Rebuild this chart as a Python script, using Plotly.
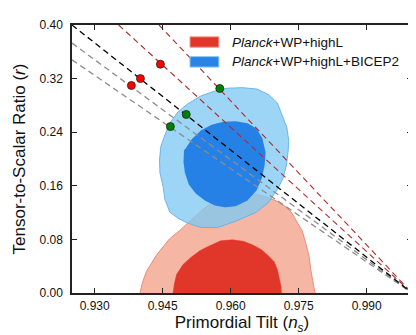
import plotly.graph_objects as go

# Planck+WP+highL contours (n_s, r)
planck_95_ns = [0.9400, 0.9405, 0.9414, 0.9424, 0.9436, 0.9451, 0.9465, 0.9487, 0.9505, 0.9534,
                0.9556, 0.9578, 0.9598, 0.9630, 0.9659, 0.9685, 0.9703, 0.9720, 0.9734, 0.9745,
                0.9758, 0.9766, 0.9773, 0.9777, 0.9782, 0.9786]
planck_95_r = [0.0, 0.0146, 0.0322, 0.0440, 0.0562, 0.0690, 0.0807, 0.0929, 0.1043, 0.1219,
               0.1337, 0.1410, 0.1454, 0.1491, 0.1469, 0.1418, 0.1366, 0.1293, 0.1204, 0.1072,
               0.0925, 0.0734, 0.0543, 0.0337, 0.0160, 0.0]
planck_68_ns = [0.9473, 0.9476, 0.9481, 0.9495, 0.9512, 0.9532, 0.9549, 0.9578, 0.9604, 0.9628,
                0.9648, 0.9668, 0.9683, 0.9696, 0.9703, 0.9707, 0.9711, 0.9712]
planck_68_r = [0.0, 0.0146, 0.0278, 0.0425, 0.0528, 0.0631, 0.0690, 0.0778, 0.0793, 0.0771,
               0.0719, 0.0646, 0.0557, 0.0465, 0.0351, 0.0219, 0.0101, 0.0]

# Planck+WP+highL+BICEP2 contours
bicep_95_ns = [0.9446, 0.9443, 0.9444, 0.9451, 0.9455, 0.9466, 0.9484, 0.9505, 0.9534, 0.9571,
               0.9611, 0.9655, 0.9683, 0.9703, 0.9716, 0.9723, 0.9727, 0.9728, 0.9724, 0.9714,
               0.9703, 0.9685, 0.9659, 0.9626, 0.9593, 0.9564, 0.9534, 0.9505, 0.9484, 0.9468,
               0.9457, 0.9446]
bicep_95_r = [0.2190, 0.1984, 0.1793, 0.1587, 0.1396, 0.1204, 0.1116, 0.1043, 0.0979, 0.0976,
              0.1072, 0.1200, 0.1347, 0.1543, 0.1719, 0.1910, 0.2131, 0.2278, 0.2469, 0.2660,
              0.2837, 0.2954, 0.3043, 0.3065, 0.3057, 0.3013, 0.2940, 0.2822, 0.2704, 0.2557,
              0.2396, 0.2190]
bicep_68_ns = [0.9497, 0.9496, 0.9499, 0.9508, 0.9523, 0.9543, 0.9565, 0.9587, 0.9611, 0.9637,
               0.9657, 0.9669, 0.9675, 0.9677, 0.9670, 0.9657, 0.9637, 0.9611, 0.9584, 0.9558,
               0.9534, 0.9514, 0.9501, 0.9497]
bicep_68_r = [0.2131, 0.1954, 0.1793, 0.1616, 0.1484, 0.1381, 0.1307, 0.1278, 0.1293, 0.1381,
              0.1528, 0.1719, 0.1910, 0.2101, 0.2307, 0.2454, 0.2535, 0.2565, 0.2557, 0.2513,
              0.2425, 0.2293, 0.2160, 0.2131]

# model lines: start point -> end point (n_s = 1, r = 0)
line_ns = {"black": [0.925, 1.0], "gray1": [0.925, 1.0], "gray2": [0.925, 1.0],
           "red1": [0.9353, 1.0], "red2": [0.9442, 1.0]}
line_r = {"black": [0.40, 0.0], "gray1": [0.373, 0.0], "gray2": [0.348, 0.0],
          "red1": [0.40, 0.0], "red2": [0.40, 0.0]}

red_pts_ns = [0.9445, 0.9401, 0.9381]
red_pts_r = [0.3415, 0.3200, 0.3097]
green_pts_ns = [0.9502, 0.9467, 0.9576]
green_pts_r = [0.2665, 0.2484, 0.3053]

x_ticks = [0.930, 0.945, 0.960, 0.975, 0.990]
y_ticks = [0.00, 0.08, 0.16, 0.24, 0.32, 0.40]

legend_labels = ["<i>Planck</i>+WP+highL", "<i>Planck</i>+WP+highL+BICEP2"]

FONT = "Liberation Sans, Arial, sans-serif"

fig = go.Figure()

fig.add_trace(go.Scatter(x=planck_95_ns, y=planck_95_r, fill='toself', mode='lines',
                         fillcolor='#f5b6a4', line=dict(color='#ee8b79', width=1)))
fig.add_trace(go.Scatter(x=planck_68_ns, y=planck_68_r, fill='toself', mode='lines',
                         fillcolor='#e1372a', line=dict(color='#e1372a', width=0.5)))
fig.add_trace(go.Scatter(x=bicep_95_ns, y=bicep_95_r, fill='toself', mode='lines',
                         fillcolor='rgba(128,201,242,0.78)',
                         line=dict(color='rgba(100,175,235,0.9)', width=1)))
fig.add_trace(go.Scatter(x=bicep_68_ns, y=bicep_68_r, fill='toself', mode='lines',
                         fillcolor='rgba(25,120,230,0.9)', line=dict(width=0)))

styles = {"black": ('black', 1.3), "gray1": ('#8c8c8c', 1.3), "gray2": ('#8c8c8c', 1.3),
          "red1": ('#b02a2a', 1.1), "red2": ('#b02a2a', 1.1)}
for key in ["red1", "red2", "gray1", "gray2", "black"]:
    color, w = styles[key]
    fig.add_trace(go.Scatter(x=line_ns[key], y=line_r[key], mode='lines',
                             line=dict(color=color, width=w, dash='6px,4px')))

fig.add_trace(go.Scatter(x=red_pts_ns, y=red_pts_r, mode='markers',
                         marker=dict(size=8, color='#ff0000', line=dict(color='#222', width=0.8))))
fig.add_trace(go.Scatter(x=green_pts_ns, y=green_pts_r, mode='markers',
                         marker=dict(size=8, color='#008000', line=dict(color='#222', width=0.8))))

# legend drawn by hand: patches + labels
patch_colors = [('#e1372a', '#f0a090'), ('#2a84e8', '#8cc8f2')]
patch_y = [(0.917, 0.956), (0.843, 0.882)]
for (fc, lc), (y0, y1), label in zip(patch_colors, patch_y, legend_labels):
    fig.add_shape(type='rect', xref='paper', yref='paper', x0=0.347, x1=0.432, y0=y0, y1=y1,
                  fillcolor=fc, line=dict(color=lc, width=1))
    fig.add_annotation(xref='paper', yref='paper', x=0.465, y=(y0 + y1) / 2, text=label,
                       showarrow=False, xanchor='left', yanchor='middle',
                       font=dict(family=FONT, size=13.5, color='#111'))

axis_common = dict(showline=True, linecolor='#222', linewidth=1.5, mirror='ticks',
                   ticks='inside', ticklen=5, tickwidth=1, tickcolor='#222',
                   showgrid=False, zeroline=False,
                   tickfont=dict(family=FONT, size=12, color='#111'))

fig.update_layout(
    width=416, height=335,
    margin=dict(l=64, r=10, t=13, b=50),
    plot_bgcolor='white', paper_bgcolor='white',
    showlegend=False,
    xaxis=dict(range=[0.925, 1.0], tickvals=x_ticks, tickformat='.3f',
               ticklabelstandoff=1,
               title=dict(text="Primordial Tilt (<i>n<sub>s</sub></i>)", standoff=0,
                          font=dict(family=FONT, size=17, color='#111')),
               **axis_common),
    yaxis=dict(range=[0, 0.40], tickvals=y_ticks, tickformat='.2f',
               ticklabelstandoff=5,
               title=dict(text="Tensor-to-Scalar Ratio (<i>r</i>)", standoff=10,
                          font=dict(family=FONT, size=17, color='#111')),
               **axis_common),
)

fig.write_html("out.html")
